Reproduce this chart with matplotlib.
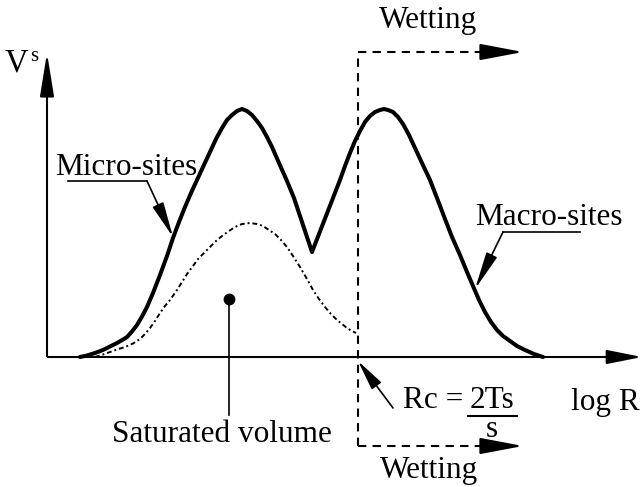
import matplotlib
matplotlib.use("Agg")
import matplotlib.pyplot as plt

plt.rcParams['font.family'] = ['Liberation Serif', 'DejaVu Serif']

# ---- data (log R on x, V^s on y; origin at the axes crossing) ----
total_logR = [33, 40, 48, 56, 63, 70, 77, 80, 85, 90, 95, 100, 106, 113, 120,
              126, 132, 138, 144, 150, 156, 163, 169, 175, 180, 185, 190, 195,
              200, 205, 210, 215, 220, 225, 232, 240, 247, 253, 259, 265,
              272, 279, 286, 293, 298, 303, 308, 313, 318, 323, 328, 333, 337,
              341, 346, 351, 356, 362, 368, 375, 383, 390, 398, 405, 413, 420,
              426, 432, 438, 444, 450, 456, 463, 470, 478, 487, 496]
total_V = [0, 1.5, 4, 7, 10.5, 14, 18, 20, 25.5, 32, 40.5, 50, 64, 82, 101,
           119, 135, 150, 164, 177, 190, 205, 218, 229, 237, 242, 246, 248,
           246, 242, 236, 229, 220, 210, 194, 176, 159, 141, 123, 105,
           123, 141, 159, 177, 191, 204, 216, 226, 235, 241, 245, 247, 248,
           247, 245, 240, 233, 222, 209, 194, 177, 159, 138, 120, 102, 85,
           71, 57, 45, 35, 27, 21, 16, 11, 7, 3, 0]

sat_logR = [48, 56, 63, 70, 78, 86, 93, 98, 103, 108, 113, 118, 123, 130, 135,
            140, 146, 151, 157, 163, 169, 175, 182, 188, 195, 203, 210, 216,
            222, 228, 234, 240, 246, 253, 260, 266, 272, 278, 284, 290, 295,
            300, 305, 309]
sat_V = [0, 2.5, 5, 7.5, 10, 13.5, 18, 23, 29, 36, 44, 51, 57, 67, 75,
         83, 91, 98, 104, 110, 116, 121, 126, 130, 133, 134, 133, 131,
         127, 123, 117, 110, 101, 90, 78, 67, 58, 50, 43, 37, 33,
         29, 26, 24]

Rc = 311          # critical radius position on the log R axis
dot_point = (182, 58)

labels = {
    "micro": "Micro-sites",
    "macro": "Macro-sites",
    "sat": "Saturated volume",
    "wet": "Wetting",
    "xlab": "log R",
}

FS = 22.5
PX = 0.72  # points per pixel at dpi 100

fig = plt.figure(figsize=(6.42, 4.87), dpi=100)
ax = fig.add_axes([0, 0, 1, 1])
ax.set_xlim(-47, 595)
ax.set_ylim(-130, 357)
ax.axis('off')


def head(base, tip, length_px, width_px, lw=1.2):
    ax.annotate("", xy=tip, xytext=base,
                arrowprops=dict(arrowstyle="-|>,head_length=%f,head_width=%f"
                                % (length_px * PX / 10.0, width_px * PX / 20.0),
                                mutation_scale=10, color="black", lw=lw,
                                shrinkA=0, shrinkB=0))


# axes
ax.plot([0, 0], [0, 270], color="black", lw=1.5, solid_capstyle="butt")
head((0, 267), (0, 304), 37, 12, lw=1.5)
ax.plot([0, 567], [0, 0], color="black", lw=1.5, solid_capstyle="butt")
head((565, 0), (595, 0), 30, 12, lw=1.5)

# curves
ax.plot(total_logR, total_V, color="black", lw=2.9, solid_joinstyle="round",
        solid_capstyle="round")
ax.plot(sat_logR, sat_V, color="black", lw=1.4, linestyle=(0, (2.5, 1.5, 1, 1.5)))

# wetting front (dashed)
ax.plot([Rc, Rc], [-89, 305], color="black", lw=1.5, linestyle=(0, (4, 3)))
ax.plot([Rc, 441], [305, 305], color="black", lw=1.5, linestyle=(0, (4, 3)))
ax.plot([Rc, 441], [-89, -89], color="black", lw=1.5, linestyle=(0, (4, 3)))
head((439, 305), (476, 305), 37, 14, lw=1.5)
head((439, -89), (476, -89), 37, 14, lw=1.5)

ax.text(381, 329, labels["wet"], fontsize=FS, ha="center", va="baseline")
ax.text(382, -121, labels["wet"], fontsize=FS, ha="center", va="baseline")

# axis labels
ax.text(-42, 285, "V", fontsize=FS + 1, ha="left", va="baseline")
ax.text(-17, 296, "s", fontsize=15, ha="left", va="baseline")
ax.text(524, -53, labels["xlab"], fontsize=FS, ha="left", va="baseline")

# Micro-sites label
ax.text(8, 182, labels["micro"], fontsize=FS, ha="left", va="baseline")
ax.plot([21, 100], [176, 176], color="black", lw=1.2)
head((100, 176), (126, 120), 30, 10)

# Macro-sites label
ax.text(428, 132, labels["macro"], fontsize=FS, ha="left", va="baseline")
ax.plot([456, 533], [125, 125], color="black", lw=1.2)
head((456, 125), (428, 68), 32, 10)

# Saturated volume
ax.plot([dot_point[0], dot_point[0]], [dot_point[1], -58], color="black", lw=1.2)
ax.plot([dot_point[0]], [dot_point[1]], marker="o", color="black", markersize=7.5)
ax.text(65, -85, labels["sat"], fontsize=FS, ha="left", va="baseline")

# Rc annotation
head((346, -51), (Rc, -4), 26, 10)
ax.text(356, -51, "Rc = ", fontsize=FS, ha="left", va="baseline")
ax.text(423, -51, "2Ts", fontsize=FS, ha="left", va="baseline")
ax.plot([421, 470], [-59, -59], color="black", lw=1.5)
ax.text(445, -80, "s", fontsize=FS, ha="center", va="baseline")

fig.savefig("out.png", dpi=100)
